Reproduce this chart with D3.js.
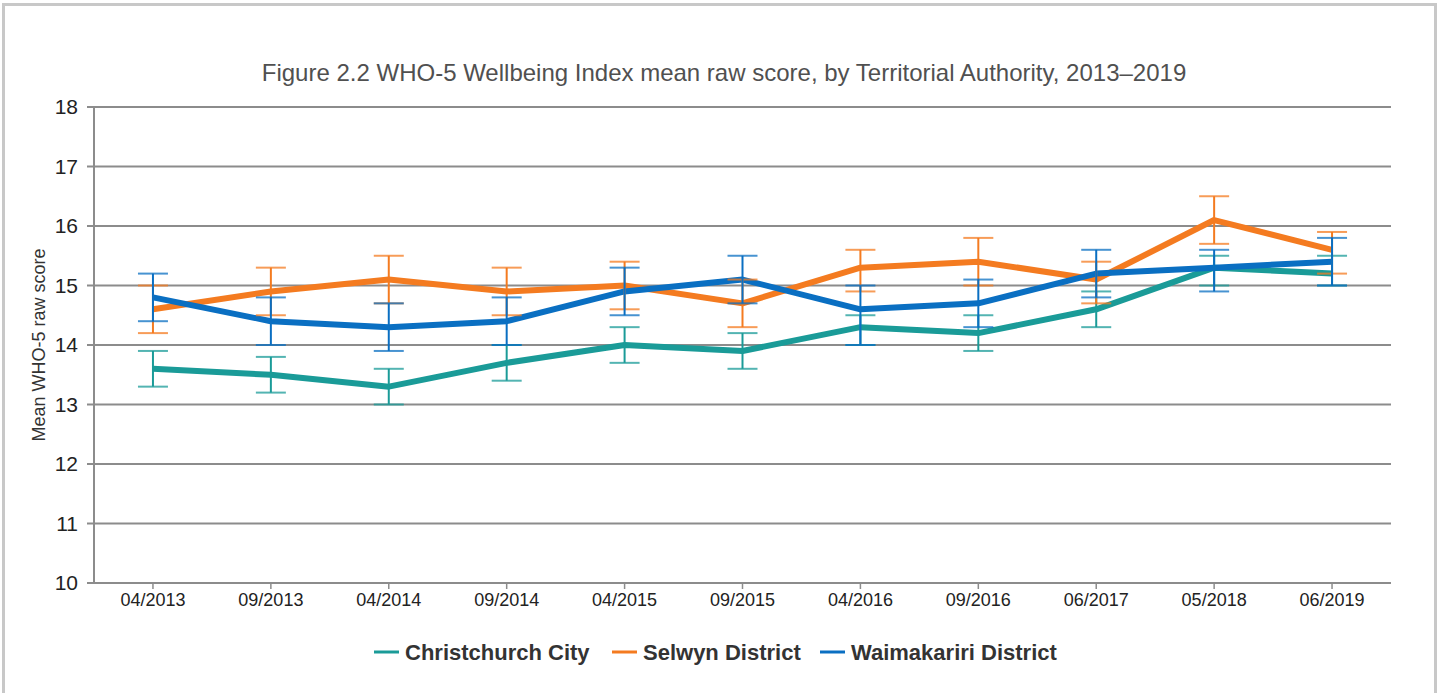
<!DOCTYPE html>
<html>
<head>
    <title>WHO-5 Wellbeing Index</title>
    <script src="https://d3js.org/d3.v7.min.js"></script>
    <style>
        body {
            margin: 0;
            padding: 0;
            background: white;
            font-family: "Liberation Sans", Arial, sans-serif;
        }
        .frame {
            fill: none;
            stroke: #c8c8c8;
            stroke-width: 3;
        }
        .chart-title {
            font-size: 24px;
            fill: #505050;
            text-anchor: middle;
        }
        .grid line {
            stroke: #8c8c8c;
            stroke-width: 2;
        }
        .tick text {
            fill: #222;
        }
        .axis-title {
            font-size: 18px;
            fill: #333;
            text-anchor: middle;
        }
        .series-line {
            fill: none;
            stroke-width: 6;
            stroke-linejoin: round;
        }
        .err {
            stroke-width: 2;
        }
        .legend-label {
            font-size: 22px;
            font-weight: bold;
            fill: #333;
        }
    </style>
</head>
<body>
    <svg id="chart" width="1442" height="693"></svg>
    <script>
        // survey waves
        const waves = ['04/2013', '09/2013', '04/2014', '09/2014', '04/2015', '09/2015',
                       '04/2016', '09/2016', '06/2017', '05/2018', '06/2019'];

        const seriesNames = ['Christchurch City', 'Selwyn District', 'Waimakariri District'];
        const seriesColors = ['#1a9b98', '#f47b20', '#0a6fc2'];

        // mean raw score
        const christchurch = [13.6, 13.5, 13.3, 13.7, 14.0, 13.9, 14.3, 14.2, 14.6, 15.3, 15.2];
        const selwyn       = [14.6, 14.9, 15.1, 14.9, 15.0, 14.7, 15.3, 15.4, 15.1, 16.1, 15.6];
        const waimakariri  = [14.8, 14.4, 14.3, 14.4, 14.9, 15.1, 14.6, 14.7, 15.2, 15.3, 15.4];

        // 95% confidence limits
        const christchurchLow  = [13.3, 13.2, 13.0, 13.4, 13.7, 13.6, 14.0, 13.9, 14.3, 15.0, 15.0];
        const christchurchHigh = [13.9, 13.8, 13.6, 14.0, 14.3, 14.2, 14.5, 14.5, 14.9, 15.5, 15.5];
        const selwynLow        = [14.2, 14.5, 14.7, 14.5, 14.6, 14.3, 14.9, 15.0, 14.7, 15.7, 15.2];
        const selwynHigh       = [15.0, 15.3, 15.5, 15.3, 15.4, 15.1, 15.6, 15.8, 15.4, 16.5, 15.9];
        const waimakaririLow   = [14.4, 14.0, 13.9, 14.0, 14.5, 14.7, 14.0, 14.3, 14.8, 14.9, 15.0];
        const waimakaririHigh  = [15.2, 14.8, 14.7, 14.8, 15.3, 15.5, 15.0, 15.1, 15.6, 15.6, 15.8];

        const yTicks = [10, 11, 12, 13, 14, 15, 16, 17, 18];

        const series = [
            { name: seriesNames[0], color: seriesColors[0], values: christchurch, low: christchurchLow, high: christchurchHigh },
            { name: seriesNames[1], color: seriesColors[1], values: selwyn, low: selwynLow, high: selwynHigh },
            { name: seriesNames[2], color: seriesColors[2], values: waimakariri, low: waimakaririLow, high: waimakaririHigh }
        ];

        const svg = d3.select('#chart');
        const W = 1442, H = 693;
        const margin = { top: 107, right: 50, bottom: 110, left: 94 };

        // outer frame
        svg.append('rect')
            .attr('class', 'frame')
            .attr('x', 3.5).attr('y', 4.5)
            .attr('width', 1432).attr('height', 700);

        svg.append('text')
            .attr('class', 'chart-title')
            .attr('x', 724)
            .attr('y', 81)
            .text('Figure 2.2 WHO-5 Wellbeing Index mean raw score, by Territorial Authority, 2013–2019');

        const x = d3.scaleBand()
            .domain(waves)
            .range([margin.left, W - margin.right - 1]);

        const y = d3.scaleLinear()
            .domain([10, 18])
            .range([H - margin.bottom, margin.top]);

        // gridlines
        svg.append('g')
            .attr('class', 'grid')
            .selectAll('line')
            .data(yTicks)
            .join('line')
            .attr('x1', margin.left - 7)
            .attr('x2', W - margin.right - 1)
            .attr('y1', d => y(d))
            .attr('y2', d => y(d));

        // y axis line
        svg.append('line')
            .attr('x1', margin.left).attr('x2', margin.left)
            .attr('y1', y(18)).attr('y2', y(10))
            .attr('stroke', '#8c8c8c')
            .attr('stroke-width', 2);

        const yAxis = svg.append('g')
            .attr('transform', `translate(${margin.left},0)`)
            .call(d3.axisLeft(y).tickValues(yTicks).tickSize(0).tickPadding(16));
        yAxis.select('.domain').remove();
        yAxis.selectAll('text')
            .style('font-family', '"Liberation Sans", Arial, sans-serif')
            .style('font-size', '21px');

        const xAxis = svg.append('g')
            .attr('transform', `translate(0,${y(10)})`)
            .call(d3.axisBottom(x).tickSize(6).tickPadding(4));
        xAxis.select('.domain').remove();
        xAxis.selectAll('.tick line')
            .attr('stroke', '#8c8c8c')
            .attr('stroke-width', 1.5);
        xAxis.selectAll('text')
            .style('font-family', '"Liberation Sans", Arial, sans-serif')
            .style('font-size', '18px');

        svg.append('text')
            .attr('class', 'axis-title')
            .attr('transform', `translate(45,${(y(10) + y(18)) / 2}) rotate(-90)`)
            .text('Mean WHO-5 raw score');

        const cx = d => x(d) + x.bandwidth() / 2;

        const line = d3.line()
            .x((d, i) => cx(waves[i]))
            .y(d => y(d));

        const lines = svg.append('g');
        series.forEach(s => {
            lines.append('path')
                .datum(s.values)
                .attr('class', 'series-line')
                .attr('stroke', s.color)
                .attr('d', line);
        });

        const capW = 15;
        series.forEach(s => {
            const g = svg.append('g')
                .attr('class', 'err')
                .attr('stroke', s.color);
            waves.forEach((w, i) => {
                g.append('line')
                    .attr('x1', cx(w)).attr('x2', cx(w))
                    .attr('y1', y(s.low[i])).attr('y2', y(s.high[i]));
                g.append('line')
                    .attr('stroke-opacity', 0.75)
                    .attr('x1', cx(w) - capW).attr('x2', cx(w) + capW)
                    .attr('y1', y(s.low[i])).attr('y2', y(s.low[i]));
                g.append('line')
                    .attr('stroke-opacity', 0.75)
                    .attr('x1', cx(w) - capW).attr('x2', cx(w) + capW)
                    .attr('y1', y(s.high[i])).attr('y2', y(s.high[i]));
            });
        });

        // legend
        const legendX = [374, 612, 820];
        const legend = svg.append('g');
        series.forEach((s, i) => {
            legend.append('line')
                .attr('x1', legendX[i]).attr('x2', legendX[i] + 25)
                .attr('y1', 652).attr('y2', 652)
                .attr('stroke', s.color)
                .attr('stroke-width', 3);
            legend.append('text')
                .attr('class', 'legend-label')
                .attr('x', legendX[i] + 31)
                .attr('y', 660)
                .text(s.name);
        });
    </script>
</body>
</html>
